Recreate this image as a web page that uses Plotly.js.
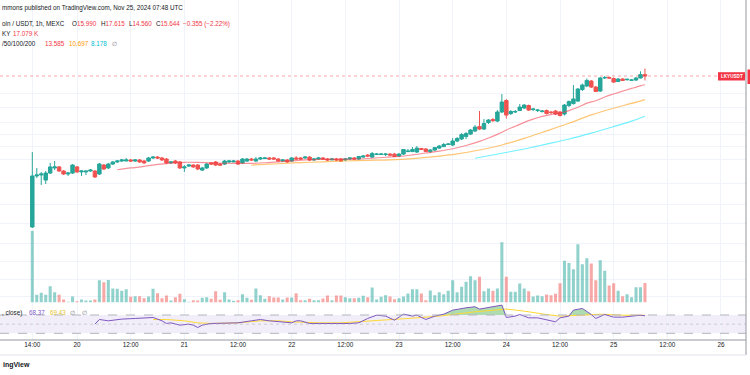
<!DOCTYPE html>
<html><head><meta charset="utf-8">
<script src="https://cdn.plot.ly/plotly-3.0.1.min.js"></script>
<style>html,body{margin:0;padding:0;background:#fff;}#chart{width:750px;height:375px;}</style>
</head><body><div id="chart"></div>
<script>
// ---------- DATA (LKY / USDT, 1h, MEXC) ----------
const startHour = Date.UTC(2024, 10, 19, 14); // first candle: Nov 19 14:00
const opens = [1.37,3.12,3.17,2.92,3.27,3.55,3.61,3.38,3.22,3.27,
3.61,3.33,3.33,3.38,3.38,3.22,3.72,3.55,3.78,3.91,
3.97,3.97,4.04,3.97,4.04,3.97,3.97,4.17,4.23,4.17,
4.10,3.85,3.97,3.91,3.55,3.66,3.72,3.72,3.43,3.55,
3.85,3.91,3.78,3.78,3.91,3.91,3.97,3.85,3.97,4.10,
3.97,4.10,4.13,4.17,4.17,4.10,3.97,4.04,3.97,4.17,
4.17,4.17,4.23,4.04,4.10,4.17,4.10,4.04,4.10,4.10,
4.04,4.10,4.17,4.10,4.23,4.37,4.23,4.41,4.41,4.41,
4.44,4.44,4.30,4.44,4.62,4.62,4.59,4.86,4.82,4.62,
4.74,4.89,5.01,5.18,5.14,5.48,5.66,5.89,6.13,6.44,
6.92,6.65,7.38,7.75,7.56,8.75,10.53,8.54,8.75,8.96,
9.33,9.71,9.11,8.96,8.82,8.96,8.75,8.89,8.75,8.47,
9.71,10.03,10.45,12.58,13.31,14.43,13.09,12.27,15.14,15.27,
15.02,14.31,14.90,14.72,14.60,14.66,15.14,15.990];
const highs = [4.59,3.55,3.33,3.38,3.85,3.97,3.66,3.43,3.33,3.78,
3.66,3.43,3.38,3.49,3.43,3.85,3.78,3.85,3.97,4.04,
4.10,4.17,4.10,4.10,4.10,4.04,4.23,4.30,4.30,4.23,
4.17,3.97,4.04,3.97,3.72,3.78,3.78,3.78,3.61,3.85,
3.91,3.97,3.85,4.04,4.04,4.04,4.04,4.17,4.17,4.17,
4.23,4.23,4.23,4.23,4.23,4.17,4.10,4.10,4.23,4.30,
4.23,4.30,4.30,4.17,4.23,4.23,4.17,4.17,4.17,4.17,
4.17,4.23,4.23,4.30,4.37,4.44,4.59,4.52,4.52,4.52,
4.52,4.52,4.52,4.82,4.82,4.97,5.05,4.89,4.89,4.82,
4.97,5.14,5.30,5.30,5.75,5.84,6.23,6.33,6.65,7.09,
8.89,7.81,7.81,7.94,9.03,11.69,10.79,9.03,9.03,9.95,
9.95,9.87,9.33,9.18,9.03,9.11,8.89,9.03,8.89,9.95,
10.53,13.52,12.88,13.85,15.02,14.66,13.31,15.39,15.64,15.52,
15.27,15.14,15.14,15.02,14.90,15.39,16.88,17.615];
const lows = [1.35,3.02,2.70,2.74,3.22,3.43,3.33,3.17,3.12,3.22,
3.27,3.12,3.17,3.33,3.02,3.17,3.43,3.49,3.72,3.85,
3.91,3.97,3.91,3.91,3.85,3.78,3.91,4.10,4.10,3.97,
3.78,3.78,3.78,3.49,3.33,3.61,3.55,3.43,3.38,3.49,
3.72,3.66,3.66,3.72,3.85,3.91,3.72,3.78,3.91,3.97,
3.91,4.04,4.10,4.04,4.04,3.91,3.91,3.85,3.91,4.04,
4.04,4.10,3.97,3.97,4.04,4.04,3.97,4.04,3.97,3.91,
3.97,4.04,4.04,4.04,4.17,4.23,4.17,4.37,4.37,4.30,
4.30,4.23,4.23,4.37,4.59,4.59,4.52,4.74,4.59,4.52,
4.66,4.82,4.97,5.14,5.05,5.39,5.57,5.66,6.03,6.33,
6.54,6.54,7.21,7.44,7.44,8.61,7.88,8.33,8.61,8.89,
9.18,8.89,8.89,8.75,8.68,8.40,8.47,8.33,8.14,8.27,
9.48,9.87,10.28,12.27,13.09,12.88,12.08,12.08,14.90,14.90,
13.97,14.19,14.43,14.56,14.43,14.43,15.02,14.560];
const closes = [3.12,3.17,3.22,3.27,3.61,3.61,3.38,3.22,3.27,3.72,
3.33,3.38,3.38,3.43,3.07,3.78,3.49,3.78,3.91,3.97,
4.04,4.04,3.97,4.04,3.91,3.85,4.17,4.23,4.17,4.04,
3.85,3.91,3.85,3.55,3.61,3.72,3.61,3.49,3.55,3.78,
3.78,3.72,3.72,3.97,3.97,3.97,3.78,4.10,4.10,4.04,
4.10,4.17,4.17,4.10,4.10,3.97,4.04,3.91,4.17,4.10,
4.10,4.23,4.04,4.10,4.17,4.10,4.04,4.10,4.04,3.97,
4.10,4.17,4.10,4.27,4.30,4.30,4.48,4.44,4.44,4.44,
4.37,4.27,4.44,4.78,4.66,4.78,4.89,4.78,4.62,4.74,
4.93,5.05,5.18,5.22,5.48,5.71,6.08,6.18,6.54,6.86,
6.65,7.27,7.69,7.62,8.75,10.28,8.33,8.82,8.82,9.48,
9.79,9.03,9.18,9.03,8.89,8.54,8.68,8.47,8.27,9.79,
10.36,10.79,12.68,13.52,14.56,13.09,12.18,15.14,15.27,15.14,
14.19,14.90,14.56,14.83,14.66,15.14,15.99,15.644];
const volumeK = [62.4,6.7,8.4,6.7,14.2,9.0,6.7,2.6,0.6,5.2,
1.1,2.6,1.7,1.7,2.6,19.4,17.7,19.7,12.2,11.9,
10.2,11.6,5.0,5.5,5.5,3.7,5.2,11.9,8.1,3.7,
6.1,1.7,4.6,7.6,2.9,0.6,2.0,1.7,4.1,4.6,
3.2,9.8,2.3,9.0,2.6,1.5,2.0,7.2,4.1,2.3,
12.2,6.4,3.2,5.5,4.4,4.4,2.6,4.4,4.4,8.1,
2.0,2.0,3.2,2.0,2.0,3.5,6.1,2.0,6.1,6.1,
4.6,3.7,3.7,4.1,5.8,4.6,13.1,2.6,5.0,6.4,
5.2,2.9,3.7,5.2,7.8,11.6,11.6,7.8,2.0,10.4,
6.4,9.0,7.2,10.2,19.4,9.0,13.7,18.0,22.9,19.4,
22.4,9.8,12.2,10.2,12.2,52.5,22.4,9.3,9.3,16.5,
12.2,9.8,5.2,6.1,5.5,7.0,6.4,7.6,16.8,36.3,
34.5,29.0,50.7,33.3,38.5,33.9,19.4,36.8,27.6,14.8,
16.8,10.2,5.5,7.2,4.6,13.3,13.3,17.079];

// Moving averages (candle index -> value)
const ma20Idx = [19,22,25,28,31,34,37,40,43,46,49,52,55,58,61,64,67,70,73,76,79,82,85,88,91,94,97,100,102,104,106,108,110,112,114,116,118,120,122,124,126,128,130,132,134,136,137];
const ma20Val = [3.45,3.55,3.64,3.76,3.84,3.89,3.88,3.85,3.83,3.82,3.82,3.86,3.92,3.98,4.04,4.07,4.09,4.09,4.10,4.15,4.22,4.27,4.38,4.52,4.66,4.84,5.10,5.45,5.75,6.10,6.55,6.95,7.40,7.80,8.15,8.40,8.60,8.95,9.45,10.10,10.50,11.15,11.70,12.25,12.80,13.35,13.585];
const ma50Idx = [49,55,60,65,70,75,80,85,90,95,100,105,110,115,120,125,130,134,137];
const ma50Val = [3.72,3.80,3.87,3.92,3.97,4.01,4.05,4.13,4.26,4.45,4.74,5.14,5.72,6.45,7.30,8.35,9.30,10.05,10.697];
const ma100Idx = [99,105,110,115,120,125,130,134,137];
const ma100Val = [4.15,4.50,4.82,5.22,5.66,6.23,6.92,7.55,8.178];

const rsiIdx = [14,15,17,20,23,26,27,29,30,31,33,35,36,37,38,40,42,44,46,49,51,53,55,58,59,60,62,64,67,69,71,73,75,77,79,81,83,85,86,88,90,92,94,97,99,100,103,105,106,108,109,111,113,115,117,118,120,121,123,125,126,128,130,132,134,136,137];
const rsiVal = [50,60.2,57.3,61,62.4,64.6,64.6,57.3,51.5,52.9,47.8,50,47.8,42.7,47.8,51.5,51.5,52.9,52.9,57.3,60.2,57.3,55.1,52.9,57.3,57.3,51.5,51.5,51.5,50,51.5,52.9,62.4,69.6,67.5,58.7,71.8,67.5,69.6,60.2,67.5,71.8,80.6,85.7,88,82.9,88,91.6,64.6,67.5,71.1,63.8,63.8,60.2,55.1,63.8,67.5,80.6,84.3,71.1,62.4,71.1,65.3,65.3,67.5,69.6,68.37];
const rsiMaIdx = [27,30,34,37,40,46,51,55,58,64,69,73,77,84,91,99,106,110,115,118,123,127,132,137];
const rsiMaVal = [60,60.2,57.3,52.9,51.5,52.9,57.3,57.3,55.1,52.9,52.9,55.1,58.5,62.4,67.5,77,82.9,78.4,71.1,67.5,69.6,71.8,69.6,69.43];

// Axis labels
const tickHours = [0,10,22,34,46,58,70,82,94,106,118,130,142,154];
const tickLabels = ['14:00','20','12:00','21','12:00','22','12:00','23','12:00','24','12:00','25','12:00','26'];
const gridPrices = [0.45,0.583,0.791,1.058,1.461,1.985,2.785,4.04,5.05,6.13,7.44,9.48,11.88];

// ---------- helpers ----------
function t(h){ const d = new Date(startHour + h*3600000); return d.toISOString().slice(0,19).replace('T',' '); }
const W = 746, H = 340;          // plot area in px
const px = x => x / W;
const py = y => (H - y) / H;

const times = opens.map((_, i) => t(i));
const green = '#26a69a', red = '#ef5350';
const volColors = closes.map((c, i) => c >= opens[i] ? 'rgba(38,166,154,0.5)' : 'rgba(239,83,80,0.5)');

const traces = [
  { type:'bar', x: times, y: volumeK, marker:{color: volColors, line:{width:0}}, width: 0.68*3600000,
    xaxis:'x', yaxis:'y', hoverinfo:'skip' },
  { type:'scatter', mode:'lines', x: ma20Idx.map(t), y: ma20Val, line:{color:'rgba(242,54,69,0.55)', width:1.2, shape:'spline'}, xaxis:'x', yaxis:'y2', hoverinfo:'skip' },
  { type:'scatter', mode:'lines', x: ma50Idx.map(t), y: ma50Val, line:{color:'rgba(255,152,0,0.55)', width:1.2, shape:'spline'}, xaxis:'x', yaxis:'y2', hoverinfo:'skip' },
  { type:'scatter', mode:'lines', x: ma100Idx.map(t), y: ma100Val, line:{color:'rgba(0,229,255,0.55)', width:1.2, shape:'spline'}, xaxis:'x', yaxis:'y2', hoverinfo:'skip' },
  { type:'candlestick', x: times, open: opens, high: highs, low: lows, close: closes,
    increasing:{line:{color:green, width:1}, fillcolor:green},
    decreasing:{line:{color:red, width:1}, fillcolor:red},
    whiskerwidth:0, xaxis:'x', yaxis:'y2', hoverinfo:'skip' },
  // RSI pane
  { type:'scatter', mode:'lines', x: rsiIdx.map(t), y: rsiIdx.map(() => 70), line:{width:0, color:'rgba(0,0,0,0)'}, xaxis:'x', yaxis:'y3', hoverinfo:'skip' },
  { type:'scatter', mode:'lines', x: rsiIdx.map(t), y: rsiVal.map(v => Math.max(v, 70)), line:{width:0, color:'rgba(0,0,0,0)'},
    fill:'tonexty', fillcolor:'rgba(76,175,80,0.45)', xaxis:'x', yaxis:'y3', hoverinfo:'skip' },
  { type:'scatter', mode:'lines', x: rsiMaIdx.map(t), y: rsiMaVal, line:{color:'#fdd835', width:1}, xaxis:'x', yaxis:'y3', hoverinfo:'skip' },
  { type:'scatter', mode:'lines', x: rsiIdx.map(t), y: rsiVal, line:{color:'#7e57c2', width:1}, xaxis:'x', yaxis:'y3', hoverinfo:'skip' }
];

const FONT = 'Liberation Sans, Arial, sans-serif';
const dark = '#131722', gray = '#787b86';
function ann(text, x, y, color, size, opts){
  return Object.assign({ text, x: px(x), y: py(y), xref:'paper', yref:'paper', xanchor:'left', yanchor:'middle',
    showarrow:false, font:{family:FONT, size: size || 6.3, color: color || dark} }, opts || {});
}
const lastClose = closes[closes.length-1];
const annotations = [
  ann('mmons published on TradingView.com, Nov 25, 2024 07:48 UTC', 0, 7.5, dark),
  ann('oin / USDT, 1h, MEXC', 0, 24, dark),
  ann('O<span style="color:#f23645">15.990</span>', 70, 24, dark),
  ann('H<span style="color:#f23645">17.615</span>', 99, 24, dark),
  ann('L<span style="color:#f23645">14.560</span>', 127, 24, dark),
  ann('C<span style="color:#f23645">15.644</span>', 154, 24, dark),
  ann('−0.355 (−2.22%)', 181, 24, '#f23645'),
  ann('KY', 0, 33.5, dark),
  ann('17.079 K', 11, 33.5, '#f23645'),
  ann('/50/100/200', 0, 43, dark),
  ann('13.585', 43, 43, '#f23645'),
  ann('10.697', 67, 43, '#ff9800'),
  ann('8.178', 89, 43, '#00bcd4'),
  ann('∅', 110, 43, gray),
  ann(', close)', 0, 312.5, dark),
  ann('68.37', 27, 312.5, '#7e57c2'),
  ann('69.43', 48, 312.5, '#e6c229'),
  ann('∅', 68, 312.5, gray),
  ann('∅', 80, 312.5, gray),
  ann('<b>ingView</b>', 1, 365, dark, 7),
  ann('<b>LKYUSDT</b>', 731.5, 76.3, '#ffffff', 4.6, {xanchor:'center'})
];

const shapes = [
  // RSI band and levels
  { type:'rect', xref:'paper', x0:0, x1:1, yref:'y3', y0:30, y1:70, fillcolor:'rgba(126,87,194,0.1)', line:{width:0}, layer:'below' },
  { type:'line', xref:'paper', x0:0, x1:1, yref:'y3', y0:70, y1:70, line:{color:'#b2b5be', width:1, dash:'dash'} },
  { type:'line', xref:'paper', x0:0, x1:1, yref:'y3', y0:50, y1:50, line:{color:'rgba(178,181,190,0.6)', width:1, dash:'dot'} },
  { type:'line', xref:'paper', x0:0, x1:1, yref:'y3', y0:30, y1:30, line:{color:'#b2b5be', width:1, dash:'dash'} },
  // last price line
  { type:'line', xref:'paper', x0:0, x1:1, yref:'y2', y0:lastClose, y1:lastClose, line:{color:'rgba(242,54,69,0.45)', width:1, dash:'dot'} },
  // symbol label
  { type:'rect', xref:'paper', yref:'paper', x0:px(718), x1:px(745), y0:py(80.5), y1:py(72.2), fillcolor:'#f23645', line:{width:0} },
  { type:'rect', xref:'paper', yref:'paper', x0:px(747.5), x1:px(752), y0:py(84), y1:py(69.5), fillcolor:'#f23645', line:{width:0} },
  // pane borders
  { type:'line', xref:'paper', yref:'paper', x0:1, x1:1, y0:py(0), y1:py(355), line:{color:'#9598a1', width:1} },
  { type:'line', xref:'paper', yref:'paper', x0:0, x1:1, y0:py(340), y1:py(340), line:{color:'#9598a1', width:1} },
  { type:'line', xref:'paper', yref:'paper', x0:0, x1:1, y0:py(355), y1:py(355), line:{color:'#e0e3eb', width:1} }
];

const logTop = Math.log10(15.644) + 76/62/Math.LN10;
const logBot = Math.log10(15.644) - (302.5-76)/62/Math.LN10;
const paneSplit = py(302.5);

const layout = {
  width:750, height:375, margin:{l:0, r:4, t:0, b:35},
  paper_bgcolor:'#ffffff', plot_bgcolor:'#ffffff', showlegend:false,
  boxgap:0.12, boxgroupgap:0.12,
  xaxis:{ type:'date', range:[t(-7.2227), t(159.593)], anchor:'y3', rangeslider:{visible:false},
    tickvals: tickHours.map(t), ticktext: tickLabels, ticks:'', showgrid:true, gridcolor:'#f0f3fa', gridwidth:1,
    tickfont:{family:FONT, size:6.4, color:dark}, showline:false, zeroline:false, fixedrange:true },
  yaxis:{ domain:[paneSplit, 1], range:[0, 302.5*0.871], showgrid:false, showticklabels:false, zeroline:false, ticks:'' },
  yaxis2:{ type:'log', overlaying:'y', range:[logBot, logTop], tickvals: gridPrices, showticklabels:false,
    showgrid:true, gridcolor:'#f0f3fa', gridwidth:1, zeroline:false, ticks:'' },
  yaxis3:{ domain:[0, paneSplit], range:[15.4, 97.3], showgrid:false, showticklabels:false, zeroline:false, ticks:'' },
  annotations, shapes
};

Plotly.newPlot('chart', traces, layout, {staticPlot:true, displayModeBar:false});
</script>
</body></html>
